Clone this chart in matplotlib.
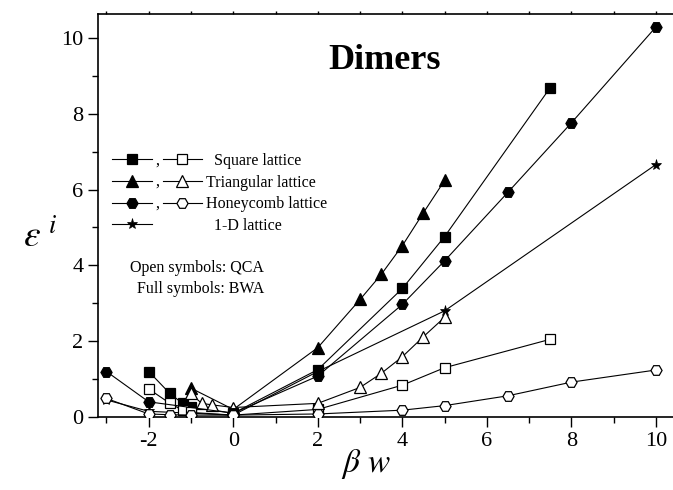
import matplotlib
matplotlib.use("Agg")
import matplotlib.pyplot as plt
from matplotlib.legend_handler import HandlerBase
from matplotlib.lines import Line2D
from matplotlib.text import Text

plt.rcParams['font.family'] = ['Liberation Serif', 'DejaVu Serif']
plt.rcParams['mathtext.fontset'] = 'stix'
plt.rcParams['axes.unicode_minus'] = False

# square lattice
sq_bwa_x = [-2, -1.5, -1.2, -1, 0, 2, 4, 5, 7.5]
sq_bwa_y = [1.2, 0.62, 0.36, 0.27, 0.1, 1.25, 3.39, 4.76, 8.69]
sq_qca_x = [-2, -1.5, -1.2, -1, 0, 2, 4, 5, 7.5]
sq_qca_y = [0.74, 0.36, 0.18, 0.12, 0.05, 0.2, 0.84, 1.30, 2.05]

# triangular lattice
tri_bwa_x = [-1, 0, 2, 3, 3.5, 4, 4.5, 5]
tri_bwa_y = [0.76, 0.2, 1.83, 3.1, 3.76, 4.52, 5.39, 6.24]
tri_qca_x = [-1, -0.75, -0.5, 0, 2, 3, 3.5, 4, 4.5, 5]
tri_qca_y = [0.62, 0.36, 0.32, 0.25, 0.36, 0.78, 1.15, 1.59, 2.12, 2.63]

# honeycomb lattice
hc_bwa_x = [-3, -2, 0, 2, 4, 5, 6.5, 8, 10]
hc_bwa_y = [1.2, 0.4, 0.1, 1.08, 2.97, 4.12, 5.93, 7.76, 10.29]
hc_qca_x = [-3, -2, -1.5, -1, 0, 2, 4, 5, 6.5, 8, 10]
hc_qca_y = [0.49, 0.08, 0.06, 0.05, 0.05, 0.08, 0.18, 0.30, 0.56, 0.92, 1.24]

# 1-D lattice
one_d_x = [-3, -2, 0, 2, 5, 10]
one_d_y = [0.45, 0.15, 0.05, 1.2, 2.8, 6.66]


class PairHandler(HandlerBase):
    # full symbol, comma, open symbol (or only the first one)
    def create_artists(self, legend, orig_handle, xdescent, ydescent,
                       width, height, fontsize, trans):
        gap = 0.12 * width
        w = (width - gap) / 2
        yc = height / 2 - ydescent
        out = []
        for i, h in enumerate(orig_handle):
            if h is None:
                continue
            x0 = -xdescent + i * (w + gap)
            ln = Line2D([x0, x0 + w / 2, x0 + w], [yc, yc, yc],
                        color='k', lw=h.get_linewidth(), marker=h.get_marker(),
                        markersize=h.get_markersize(), markevery=[1],
                        markerfacecolor=h.get_markerfacecolor(),
                        markeredgecolor='k', markeredgewidth=h.get_markeredgewidth())
            ln.set_transform(trans)
            out.append(ln)
        if orig_handle[1] is not None:
            t = Text(-xdescent + w + gap * 0.3, yc - 0.3 * fontsize, ',',
                     fontsize=fontsize, ha='left', va='baseline')
            t.set_transform(trans)
            out.append(t)
        return out


fig = plt.figure(figsize=(6.73, 4.90), dpi=100)
ax = fig.add_axes([98 / 673, 73 / 490, 577 / 673, 403 / 490])

lw = 0.8
mew = 0.9
od, = ax.plot(one_d_x, one_d_y, '-', color='k', lw=lw, marker='*', ms=8, mfc='k', mec='k', mew=0.5, zorder=2)
sq_b, = ax.plot(sq_bwa_x, sq_bwa_y, '-', color='k', lw=lw, marker='s', ms=7, mfc='k', mec='k', mew=mew, zorder=3)
sq_q, = ax.plot(sq_qca_x, sq_qca_y, '-', color='k', lw=lw, marker='s', ms=6.5, mfc='white', mec='k', mew=mew, zorder=3)
tr_b, = ax.plot(tri_bwa_x, tri_bwa_y, '-', color='k', lw=lw, marker='^', ms=8, mfc='k', mec='k', mew=mew, zorder=3)
tr_q, = ax.plot(tri_qca_x, tri_qca_y, '-', color='k', lw=lw, marker='^', ms=8, mfc='white', mec='k', mew=mew, zorder=3)
hc_b, = ax.plot(hc_bwa_x, hc_bwa_y, '-', color='k', lw=lw, marker='H', ms=8, mfc='k', mec='k', mew=mew, zorder=3)
hc_q, = ax.plot(hc_qca_x, hc_qca_y, '-', color='k', lw=lw, marker='H', ms=8, mfc='white', mec='k', mew=mew, zorder=3)

ax.set_xlim(-3.2, 10.45)
ax.set_ylim(0, 10.63)
ax.set_xticks([-2, 0, 2, 4, 6, 8, 10])
ax.set_xticks(list(range(-3, 11)), minor=True)
ax.set_yticks([0, 2, 4, 6, 8, 10])
ax.set_yticks([1, 3, 5, 7, 9], minor=True)
ax.tick_params(axis='both', which='major', direction='out', length=7, width=1, labelsize=16)
ax.tick_params(axis='both', which='minor', direction='out', length=4, width=1)
ax.tick_params(axis='x', which='both', top=True)
ax.spines['right'].set_visible(False)
for s in ['left', 'bottom', 'top']:
    ax.spines[s].set_linewidth(1.2)
# the top axis carries only tiny ticks
for t in ax.xaxis.get_major_ticks() + ax.xaxis.get_minor_ticks():
    t.tick2line.set_markersize(2)

ax.set_xlabel(r'$\beta\ w$', fontsize=24)
ax.xaxis.set_label_coords(0.465, -0.075)
ax.set_ylabel(r'$\varepsilon^{\ i}$', fontsize=27, rotation=0)
ax.yaxis.set_label_coords(-0.10, 0.40)

ax.text(0.497, 0.885, 'Dimers', transform=ax.transAxes, fontsize=26,
        fontweight='bold', ha='center', va='center')

handles = [(sq_b, sq_q), (tr_b, tr_q), (hc_b, hc_q), (od, None)]
labels = ['  Square lattice', 'Triangular lattice', 'Honeycomb lattice', '  1-D lattice']
ax.legend(handles, labels, handler_map={tuple: PairHandler()},
          loc='upper left', bbox_to_anchor=(0.025, 0.655), frameon=False,
          fontsize=11.5, handlelength=5.6, handletextpad=0.25,
          labelspacing=0.35, borderpad=0, borderaxespad=0)

ax.text(0.172, 0.37, 'Open symbols: QCA', transform=ax.transAxes,
        fontsize=11.5, ha='center', va='center')
ax.text(0.178, 0.317, 'Full symbols: BWA', transform=ax.transAxes,
        fontsize=11.5, ha='center', va='center')

fig.savefig('out.png', dpi=100)
